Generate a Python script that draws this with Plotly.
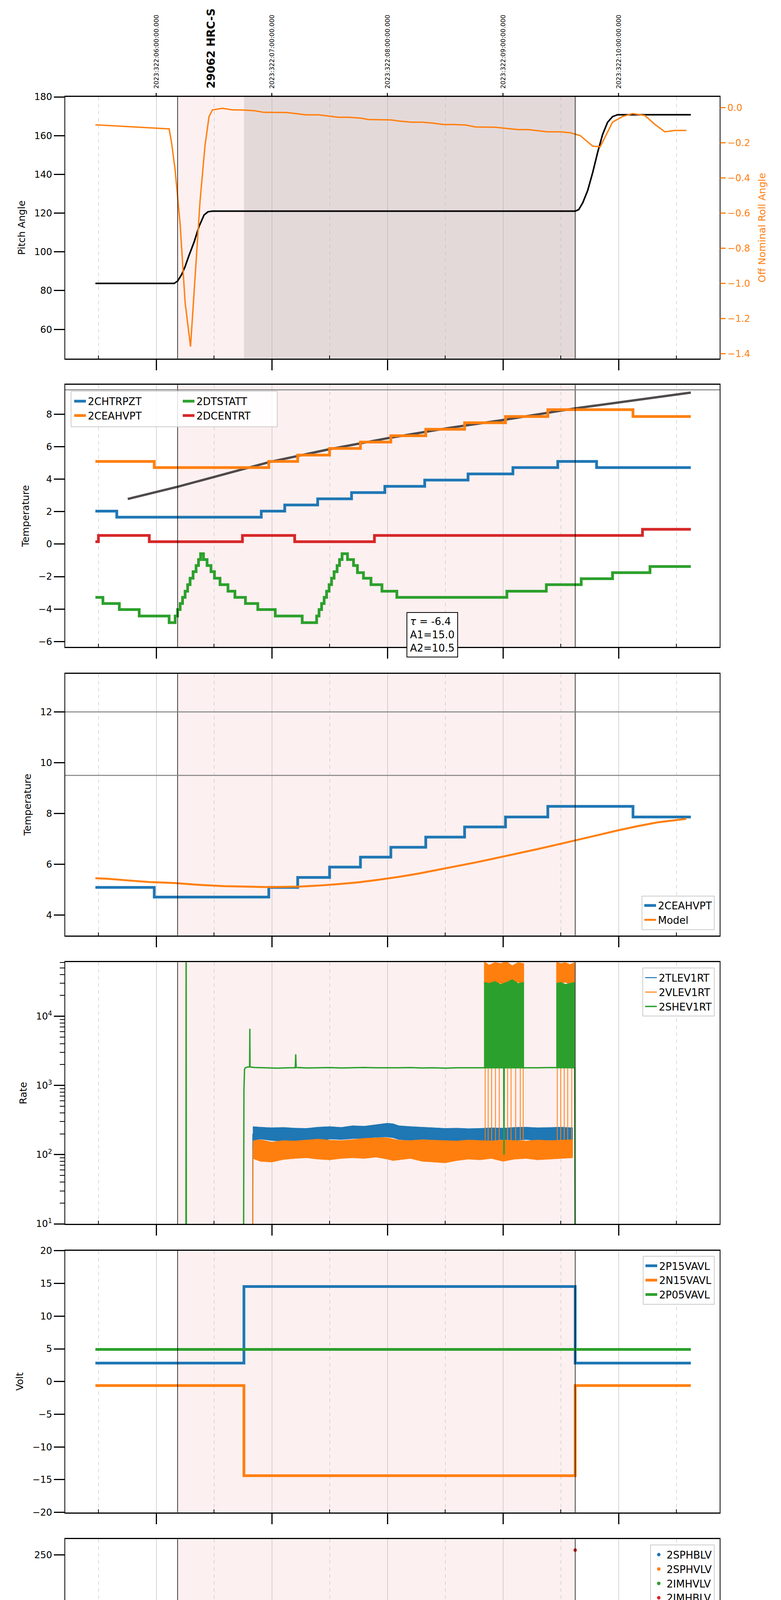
import plotly.graph_objects as go

# ---------------- time axis (hours UTC, 2023:322) ----------------
hour_ticks = [6, 7, 8, 9, 10]
hour_labels = ["01h", "02h", "03h", "04h", "05h"]
half_ticks = [5.5, 6.5, 7.5, 8.5, 9.5, 10.5]
half_labels = ["30", "30", "30", "30", "30", "30"]
top_times = [6, 7, 8, 9, 10]
top_labels = ["2023:322:06:00:00.000", "2023:322:07:00:00.000", "2023:322:08:00:00.000",
              "2023:322:09:00:00.000", "2023:322:10:00:00.000"]
obs_time = 6.473
obs_label = "29062 HRC-S"
x_title = "2023-11-18 (322)"
ctx_start, ctx_end = 6.185, 9.625
dark_start = 6.759

# ---------------- panel 1 : pitch / roll ----------------
pitch_t = [5.474, 6.155, 6.185, 6.220, 6.250, 6.284, 6.328, 6.371, 6.414, 6.448, 6.487, 9.625,
           9.655, 9.690, 9.733, 9.776, 9.819, 9.862, 9.905, 9.948, 9.991, 10.625]
pitch_v = [83.7, 83.7, 84.9, 88.3, 92.4, 98.2, 105.1, 113.2, 119.0, 120.7, 121.0, 121.0,
           121.8, 125.3, 131.7, 140.9, 151.3, 160.6, 166.9, 169.8, 170.8, 170.8]
roll_t = [5.474, 6.112, 6.134, 6.164, 6.207, 6.250, 6.297, 6.336, 6.379, 6.422, 6.457, 6.487,
          6.573, 6.659, 6.759, 6.853, 6.931, 7.125, 7.233, 7.297, 7.405, 7.491, 7.578, 7.664,
          7.772, 7.836, 8.030, 8.095, 8.203, 8.302, 8.388, 8.483, 8.569, 8.677, 8.763, 8.935,
          9.022, 9.129, 9.216, 9.302, 9.388, 9.496, 9.582, 9.668, 9.776, 9.841, 9.948, 10.034,
          10.121, 10.228, 10.315, 10.401, 10.487, 10.586]
roll_v = [-0.098, -0.121, -0.204, -0.357, -0.662, -1.108, -1.360, -0.980, -0.535, -0.217,
          -0.051, -0.013, -0.004, -0.013, -0.014, -0.018, -0.027, -0.028, -0.037, -0.041,
          -0.041, -0.048, -0.055, -0.055, -0.060, -0.068, -0.070, -0.076, -0.083, -0.083,
          -0.088, -0.096, -0.096, -0.099, -0.110, -0.112, -0.118, -0.125, -0.125, -0.131,
          -0.138, -0.138, -0.143, -0.159, -0.219, -0.223, -0.083, -0.051, -0.034, -0.045,
          -0.096, -0.138, -0.130, -0.130]

# ---------------- panel 2 : temperatures ----------------
model2_t = [5.754, 6.185, 6.80, 6.996, 7.49, 8.0, 8.53, 9.0, 9.625, 10.0, 10.625]
model2_v = [2.78, 3.53, 4.71, 5.08, 5.83, 6.52, 7.15, 7.64, 8.36, 8.72, 9.33]
chtrpzt_t = [5.474, 5.659, 6.909, 7.112, 7.397, 7.690, 7.978, 8.323, 8.698, 9.086, 9.474, 9.810, 10.625]
chtrpzt_v = [2.03, 1.66, 2.03, 2.41, 2.79, 3.17, 3.56, 3.94, 4.32, 4.71, 5.09, 4.71, 4.71]
ceahvpt_t = [5.474, 5.983, 6.974, 7.224, 7.5, 7.767, 8.030, 8.332, 8.668, 9.022, 9.388, 10.125, 10.625]
ceahvpt_v = [5.09, 4.71, 5.09, 5.48, 5.89, 6.28, 6.67, 7.07, 7.47, 7.86, 8.28, 7.86, 7.86]
dcentrt_t = [5.474, 5.5, 5.940, 6.746, 7.198, 7.888, 10.207, 10.625]
dcentrt_v = [0.15, 0.53, 0.15, 0.53, 0.15, 0.53, 0.91, 0.91]
dtstatt_t = [5.474, 5.539, 5.681, 5.853, 6.112, 6.164, 6.185, 6.207, 6.228, 6.250, 6.272, 6.293,
             6.319, 6.345, 6.366, 6.384, 6.409, 6.440, 6.474, 6.504, 6.552, 6.621, 6.681, 6.772,
             6.879, 7.030, 7.263, 7.388, 7.409, 7.431, 7.453, 7.474, 7.496, 7.517, 7.539, 7.565,
             7.586, 7.608, 7.655, 7.707, 7.741, 7.793, 7.858, 7.953, 8.082, 9.034, 9.375, 9.677,
             9.948, 10.272, 10.625]
dtstatt_v = [-3.28, -3.66, -4.03, -4.43, -4.84, -4.43, -4.03, -3.66, -3.28, -2.90, -2.50, -2.10,
             -1.70, -1.32, -0.95, -0.59, -0.95, -1.32, -1.70, -2.10, -2.50, -2.90, -3.28, -3.66,
             -4.03, -4.43, -4.84, -4.43, -4.03, -3.66, -3.28, -2.90, -2.50, -2.10, -1.70, -1.32,
             -0.95, -0.59, -0.95, -1.32, -1.76, -2.10, -2.50, -2.90, -3.28, -2.90, -2.50, -2.13,
             -1.76, -1.38, -1.38]
p2_limits = [9.5]
fit_text = "<i>τ</i> = -6.4<br>A1=15.0<br>A2=10.5"
fit_time = 8.39

# ---------------- panel 3 : 2CEAHVPT vs model ----------------
hvmodel_t = [5.474, 5.573, 5.767, 5.940, 6.155, 6.371, 6.586, 6.802, 6.974, 7.233, 7.405, 7.578,
             7.750, 7.922, 8.095, 8.267, 8.440, 8.612, 8.784, 8.957, 9.129, 9.302, 9.474, 9.647,
             9.819, 9.991, 10.164, 10.336, 10.586]
hvmodel_v = [5.45, 5.43, 5.36, 5.30, 5.26, 5.19, 5.14, 5.11, 5.10, 5.12, 5.16, 5.22, 5.29, 5.39,
             5.50, 5.63, 5.78, 5.93, 6.09, 6.26, 6.42, 6.60, 6.78, 6.97, 7.15, 7.33, 7.50, 7.65, 7.79]
p3_limits = [12.0, 9.5]

# ---------------- panel 4 : rates ----------------
band_t = [6.836, 6.90, 7.00, 7.10, 7.20, 7.30, 7.40, 7.50, 7.60, 7.70, 7.80, 7.90, 8.00, 8.05,
          8.10, 8.20, 8.30, 8.40, 8.50, 8.60, 8.70, 8.80, 8.90, 9.00, 9.10, 9.20, 9.30, 9.40,
          9.50, 9.603]
tlev_hi = [255, 250, 245, 248, 242, 240, 250, 255, 248, 262, 258, 270, 285, 280, 262, 255, 250,
           245, 240, 242, 238, 240, 245, 242, 248, 250, 245, 247, 250, 245]
tlev_lo = [160, 168, 160, 155, 152, 158, 150, 168, 165, 170, 172, 178, 180, 175, 165, 160, 158,
           150, 155, 152, 150, 158, 160, 165, 160, 165, 160, 162, 158, 160]
vlev_hi = [158, 165, 152, 160, 158, 163, 168, 162, 160, 165, 172, 175, 176, 168, 162, 160, 165,
           162, 160, 158, 163, 160, 158, 163, 160, 158, 163, 160, 162, 165]
vlev_lo = [88, 80, 78, 85, 88, 90, 86, 84, 88, 90, 88, 92, 86, 82, 84, 88, 80, 78, 76, 82, 86,
           84, 88, 80, 86, 88, 84, 86, 88, 90]
tlev_rise_t = [6.834, 6.836]
tlev_rise_v = [1, 200]
vlev_rise_t = [6.834, 6.838]
vlev_rise_v = [1, 120]
shev_t = [5.474, 6.257, 6.259, 6.261, 6.755, 6.759, 6.764, 6.770, 6.790, 6.808, 6.810, 6.812,
          6.85, 6.95, 7.05, 7.15, 7.203, 7.207, 7.211, 7.30, 7.40, 7.50, 7.60, 7.70, 7.80, 7.90,
          8.00, 8.10, 8.20, 8.30, 8.40, 8.50, 8.60, 8.70, 8.80, 8.90, 9.00, 9.007, 9.009, 9.011,
          9.10, 9.20, 9.30, 9.40, 9.50, 9.60, 9.620, 9.625]
shev_v = [1, 1, 1e6, 1, 1, 850, 1700, 1800, 1850, 1850, 6600, 1850, 1820, 1800, 1780, 1800,
          1800, 2820, 1820, 1790, 1800, 1810, 1790, 1800, 1820, 1800, 1790, 1800, 1810, 1790,
          1800, 1780, 1800, 1800, 1790, 1800, 1800, 1800, 100, 1800, 1800, 1790, 1800, 1810,
          1800, 1790, 1800, 1]
spikeA_t = [8.836, 8.88, 8.93, 8.98, 9.03, 9.08, 9.13, 9.181]
spikeB_t = [9.461, 9.50, 9.54, 9.58, 9.620]
vlev_spA_hi = [62000, 55000, 60000, 58000, 62000, 54000, 60000, 58000]
vlev_spA_lo = [30000, 29000, 31000, 30000, 28000, 30000, 31000, 30000]
vlev_spB_hi = [62000, 58000, 60000, 56000, 60000]
vlev_spB_lo = [30000, 30000, 31000, 29000, 30000]
shev_spA_hi = [31000, 30000, 32000, 29000, 31000, 34000, 30000, 31000]
shev_spA_lo = [1800, 1800, 1800, 1800, 1800, 1800, 1800, 1800]
shev_spB_hi = [30000, 31000, 29000, 30000, 31000]
shev_spB_lo = [1800, 1800, 1800, 1800, 1800]
vlev_drop_t = [8.846, 8.872, 8.902, 8.935, 8.968, 9.009, 9.040, 9.070, 9.110, 9.150, 9.175,
               9.470, 9.500, 9.530, 9.560, 9.595]
vlev_drop_lo = [110, 120, 105, 115, 110, 100, 120, 110, 115, 105, 120, 110, 105, 115, 110, 120]
vlev_drop_hi = 30000
rate_minor = [20, 30, 40, 50, 60, 70, 80, 90, 200, 300, 400, 500, 600, 700, 800, 900,
              2000, 3000, 4000, 5000, 6000, 7000, 8000, 9000, 20000, 30000, 40000, 50000, 60000]

# ---------------- panel 5 : voltages ----------------
volt_t = [5.474, 6.759, 9.625, 10.625]
p15_v = [2.82, 14.53, 2.82, 2.82]
n15_v = [-0.61, -14.4, -0.61, -0.61]
p05_t = [5.474, 10.625]
p05_v = [4.92, 4.92]

# ---------------- panel 6 : HV monitors ----------------
sphblv_t = [6.784, 6.784, 6.786, 6.788, 6.792, 6.797, 6.803, 6.809, 6.815, 6.821, 6.827, 6.832]
sphblv_v = [118, 104, 103, 102, 100, 97, 92, 88, 84, 81, 79, 78]
sphblv_run_t = [6.836, 9.625]
sphblv_run_v = [78, 78]
sphvlv_t = [6.784, 6.785, 6.787, 6.789, 6.795, 6.800, 6.808, 6.813, 6.820, 6.828, 6.834,
            8.849, 8.935, 8.957, 8.978, 9.022, 9.474, 9.539, 9.591]
sphvlv_v = [127, 126, 98, 96, 91, 90, 86, 84, 80, 75, 71, 127, 127, 127, 127, 127, 127, 127, 127]
sphvlv_run_t = [6.836, 9.625]
sphvlv_run_v = [71, 71]
imhvlv_t = [6.784, 9.625]     # readings sit below the visible range
imhvlv_v = [-10, -10]
imhblv_t = [9.625]
imhblv_v = [255]

# ---------------- panels 7/8 : oscillation sample times ----------------
oscA_t = [8.836, 8.853, 8.870, 8.888, 8.905, 8.921, 8.938, 8.955, 8.972, 8.990, 9.009, 9.024,
          9.041, 9.058, 9.075, 9.092, 9.109, 9.126, 9.143, 9.160]
oscB_t = [9.461, 9.478, 9.495, 9.512, 9.529, 9.546, 9.563, 9.580, 9.597, 9.614]

# panel 7 : detector temps
spinatm_t = [6.759, 6.931, 7.159, 7.392, 7.414, 7.440, 7.461, 7.483, 7.5, 7.522, 7.547, 7.578,
             7.603, 7.621, 7.651, 7.685, 7.716, 7.75, 7.802, 7.858, 7.931, 8.030, 8.203, 8.591]
spinatm_v = [3.72, 3.27, 2.83, 3.3, 3.7, 4.2, 4.6, 5.1, 5.5, 6.0, 6.5, 7.0, 7.5, 8.08, 7.5, 7.0,
             6.5, 6.0, 5.55, 5.1, 4.6, 4.15, 3.7, 3.27]
spinatm_A = [3.27, -3, 3.27, -3, 3.27, -3, 3.27, -3, 3.27, -3, 3.27, -3, 3.27, -3, 3.27, -3,
             3.27, -3, 3.27, -3]
spinatm_mid_t = [9.181, 9.336]
spinatm_mid_v = [3.27, 3.72]
spinatm_B = [3.72, -3, 3.72, -3, 3.72, -3, 3.72, -3, 3.72, -3]

sphvatm_t = [6.759, 6.897, 6.987, 7.060, 7.138, 7.220, 7.306, 7.405, 7.513, 7.642, 7.772, 7.922,
             8.086, 8.259, 8.448, 8.664]
sphvatm_v = [14.15, 14.45, 14.72, 15.0, 15.3, 15.55, 15.85, 16.12, 16.41, 16.71, 16.98, 17.28,
             17.55, 17.84, 18.14, 18.44]
sphvatm_A = [10.54, 18.44, 10.54, 18.44, 10.54, 18.44, 10.54, 18.44, 10.54, 18.44, -3, 18.6,
             10.8, 18.8, 10.8, 18.8, 10.8, 18.8, 10.8, 18.8]
sphvatm_mid_t = [9.181]
sphvatm_mid_v = [19.02]
sphvatm_B = [11.06, 19.36, 11.06, 19.36, 11.06, 19.36, 11.06, 19.36, 11.06, 19.36]

iminatm_t = [6.759, 7.901]
iminatm_v = [0.65, 1.09]
iminatm_A = [3.35, 1.09, 3.35, 1.09, 3.35, 1.09, 3.35, 1.09, 3.35, 1.09, 3.35, 1.09, 3.35, 1.09,
             3.35, 1.09, 3.35, 1.09, 3.35, 1.09]
iminatm_mid_t = [9.181, 9.431]
iminatm_mid_v = [1.09, 1.52]
iminatm_B = [3.8, 1.52, 3.8, 1.52, 3.8, 1.52, 3.8, 1.52, 3.8, 1.52]

imhvatm_t = [5.474, 6.759, 7.332, 7.655, 7.935, 8.194, 8.461, 8.741]
imhvatm_v = [-30, 13.6, 13.88, 14.18, 14.45, 14.72, 15.0, 15.27]
imhvatm_A = [18.84, 15.27, 18.84, 15.27, 18.84, 15.27, 18.84, 15.27, 18.84, 15.27, 18.84, 15.55,
             18.84, 15.55, 18.84, 15.55, 18.84, 15.55, 18.84, 15.55]
imhvatm_mid_t = [9.181, 9.349]
imhvatm_mid_v = [15.55, 15.85]
imhvatm_B = [19.36, 15.85, 19.36, 15.85, 19.36, 15.85, 19.36, 15.85, 19.36, 15.85]
imhvatm_end_t = [9.622, 9.625]
imhvatm_end_v = [30, -30]

# panel 8 : FEA temps
fhtrmzt_t = [5.474, 5.560, 6.996, 7.125, 7.254, 7.371, 7.470, 7.476, 7.491, 7.612, 7.733, 7.853,
             7.974, 8.095, 8.224, 8.353, 8.453, 8.459, 8.491, 8.621, 8.772, 9.043, 9.194, 9.353,
             9.509, 9.668, 10.069, 10.625]
fhtrmzt_v = [-9.2, -9.61, -9.2, -8.78, -8.38, -7.97, -9.61, -7.97, -7.57, -7.17, -6.77, -6.37,
             -5.97, -5.58, -5.19, -4.78, -2.85, -4.78, -4.41, -4.0, -3.64, -2.87, -2.5, -2.12,
             -1.74, -1.36, -1.74, -1.74]
fradpyt_t = [7.000, 7.047, 7.168, 7.284, 7.397, 7.522, 7.651, 7.772, 7.901, 8.030, 8.172, 8.310,
             8.448, 8.599, 8.750, 8.905, 9.052, 9.216, 9.388, 9.552, 10.345, 10.625]
fradpyt_v = [-11.4, -10.87, -10.46, -10.04, -9.61, -9.2, -8.79, -8.38, -7.97, -7.57, -7.17, -6.77,
             -6.37, -5.97, -5.58, -5.19, -4.78, -4.41, -4.02, -3.65, -4.03, -4.03]
fepratm_t = [6.759, 6.823, 6.862, 6.905, 6.966, 7.030, 7.116, 7.216, 7.319, 7.440, 7.560, 7.690,
             7.819, 7.931, 8.060, 8.203, 8.345, 8.483, 8.634, 8.806]
fepratm_v = [-8.19, -7.79, -7.38, -6.98, -6.58, -6.2, -5.79, -5.39, -5.01, -4.61, -4.21, -3.83,
             -3.42, -3.02, -2.62, -2.22, -1.81, -1.42, -1.01, -0.59]
fepratm_A = [-4.66, -0.3, -4.66, -0.3, -4.66, -0.3, -4.66, -0.3, -4.66, -0.3, -4.66, -0.1,
             -4.66, 0.0, -4.66, 0.1, -4.66, 0.25, -4.66, 0.25]
fepratm_mid_t = [9.181, 9.302]
fepratm_mid_v = [0.25, 0.64]
fepratm_B = [-4.66, 1.5, -4.66, 1.5, -4.66, 1.5, -4.66, 1.5, -4.66, 1.5]
fe00atm_t = [5.474, 6.759, 6.832, 6.888, 6.893, 6.953, 7.039, 7.138, 7.224, 7.310, 7.405, 7.410,
             7.414, 7.491, 7.599, 7.694, 7.793, 7.799, 7.806, 7.888, 7.987, 8.030, 8.036, 8.086,
             8.103, 8.108, 8.190, 8.302, 8.418, 8.526, 8.634, 8.741, 8.746, 8.750]
fe00atm_v = [-30, -7.84, -7.48, -7.9, -7.48, -7.08, -6.7, -6.34, -5.96, -5.6, -6.0, -5.6, -5.23,
             -4.87, -4.51, -4.16, -3.1, -4.16, -3.8, -3.45, -3.12, -2.4, -3.12, -2.81, -2.1, -2.81,
             -2.45, -2.12, -1.77, -1.44, -1.13, -0.45, -1.13, -0.78]
fe00atm_A = [3, -0.55, 3, -0.55, 3, -0.55, 3, -0.55, 3, -0.55, -30, 3, -0.3, 3, -0.3, 3, -0.3,
             3, -0.3, 3]
fe00atm_mid_t = [9.181, 9.336, 9.466]
fe00atm_mid_v = [0.5, 0.84, 3]
fe00atm_end_t = [9.622, 9.625]
fe00atm_end_v = [3, -30]

# =====================================================================
C_BLUE, C_ORANGE, C_GREEN, C_RED = "#1f77b4", "#ff7f0e", "#2ca02c", "#d62728"
W, H = 2000, 6200
ML, MR, MT, MB = 167, 157, 248, 110
PH = H - MT - MB
PW = W - ML - MR


def py(p):
    return (H - MB - p) / PH


def pxf(p):
    return (p - ML) / PW


panels_px = [(248, 918), (986, 1657), (1726, 2396), (2465, 3135),
             (3204, 3874), (3943, 4614), (4682, 5352), (5420, 6090)]
XR = [5.2128, 10.875]

fig = go.Figure()


def sc(i, x, y, **kw):
    a = "" if i == 1 else str(i)
    fig.add_trace(go.Scatter(x=x, y=y, xaxis="x" + a, yaxis="y" + a, **kw))


# panel 1
sc(1, pitch_t, pitch_v, mode="lines", line=dict(color="black", width=4), showlegend=False)
fig.add_trace(go.Scatter(x=roll_t, y=roll_v, xaxis="x", yaxis="y9", mode="lines",
                         line=dict(color=C_ORANGE, width=3.5), showlegend=False))

# panel 2
sc(2, model2_t, model2_v, mode="lines", line=dict(color="rgba(55,50,50,0.88)", width=6), showlegend=False)
sc(2, chtrpzt_t, chtrpzt_v, mode="lines", line=dict(color=C_BLUE, width=7, shape="hv"),
   name="2CHTRPZT", legend="legend")
sc(2, ceahvpt_t, ceahvpt_v, mode="lines", line=dict(color=C_ORANGE, width=7, shape="hv"),
   name="2CEAHVPT", legend="legend")
sc(2, dtstatt_t, dtstatt_v, mode="lines", line=dict(color=C_GREEN, width=7, shape="hv"),
   name="2DTSTATT", legend="legend2")
sc(2, dcentrt_t, dcentrt_v, mode="lines", line=dict(color=C_RED, width=7, shape="hv"),
   name="2DCENTRT", legend="legend2")

# panel 3
sc(3, ceahvpt_t, ceahvpt_v, mode="lines", line=dict(color=C_BLUE, width=7, shape="hv"),
   name="2CEAHVPT", legend="legend3")
sc(3, hvmodel_t, hvmodel_v, mode="lines", line=dict(color=C_ORANGE, width=5),
   name="Model", legend="legend3")


# panel 4
def poly(t, hi, lo):
    return list(t) + list(t)[::-1], list(hi) + list(lo)[::-1]


bx, by = poly(band_t, tlev_hi, tlev_lo)
sc(4, bx, by, mode="lines", fill="toself", fillcolor=C_BLUE, line=dict(color=C_BLUE, width=1),
   showlegend=False, hoverinfo="skip")
sc(4, tlev_rise_t, tlev_rise_v, mode="lines", line=dict(color=C_BLUE, width=2.5),
   name="2TLEV1RT", legend="legend4")
ox, oy = poly(band_t, vlev_hi, vlev_lo)
sc(4, ox, oy, mode="lines", fill="toself", fillcolor=C_ORANGE, line=dict(color=C_ORANGE, width=1),
   showlegend=False, hoverinfo="skip")
sc(4, vlev_rise_t, vlev_rise_v, mode="lines", line=dict(color=C_ORANGE, width=2.5),
   name="2VLEV1RT", legend="legend4")
ax_, ay_ = poly(spikeA_t, vlev_spA_hi, vlev_spA_lo)
bx_, by_ = poly(spikeB_t, vlev_spB_hi, vlev_spB_lo)
sc(4, ax_ + [None] + bx_, ay_ + [None] + by_, mode="lines", fill="toself", fillcolor=C_ORANGE,
   line=dict(color=C_ORANGE, width=1), showlegend=False, hoverinfo="skip")
dx, dy = [], []
for t, lo in zip(vlev_drop_t, vlev_drop_lo):
    dx += [t, t, None]
    dy += [vlev_drop_hi, lo, None]
sc(4, dx, dy, mode="lines", line=dict(color=C_ORANGE, width=2), showlegend=False)
sc(4, shev_t, shev_v, mode="lines", line=dict(color=C_GREEN, width=3.5),
   name="2SHEV1RT", legend="legend4")
gax, gay = poly(spikeA_t, shev_spA_hi, shev_spA_lo)
gbx, gby = poly(spikeB_t, shev_spB_hi, shev_spB_lo)
sc(4, gax + [None] + gbx, gay + [None] + gby, mode="lines", fill="toself", fillcolor=C_GREEN,
   line=dict(color=C_GREEN, width=1), showlegend=False, hoverinfo="skip")

# panel 5
sc(5, volt_t, p15_v, mode="lines", line=dict(color=C_BLUE, width=7, shape="hv"),
   name="2P15VAVL", legend="legend5")
sc(5, volt_t, n15_v, mode="lines", line=dict(color=C_ORANGE, width=7, shape="hv"),
   name="2N15VAVL", legend="legend5")
sc(5, p05_t, p05_v, mode="lines", line=dict(color=C_GREEN, width=7),
   name="2P05VAVL", legend="legend5")

# panel 6
sc(6, sphblv_run_t, sphblv_run_v, mode="lines", line=dict(color=C_BLUE, width=10),
   showlegend=False)
sc(6, sphblv_t, sphblv_v, mode="markers", marker=dict(color=C_BLUE, size=9),
   name="2SPHBLV", legend="legend6")
sc(6, sphvlv_run_t, sphvlv_run_v, mode="lines", line=dict(color=C_ORANGE, width=9),
   showlegend=False)
sc(6, sphvlv_t, sphvlv_v, mode="markers", marker=dict(color=C_ORANGE, size=9),
   name="2SPHVLV", legend="legend6")
sc(6, imhvlv_t, imhvlv_v, mode="markers", marker=dict(color=C_GREEN, size=9),
   name="2IMHVLV", legend="legend6")
sc(6, imhblv_t, imhblv_v, mode="markers", marker=dict(color=C_RED, size=9),
   name="2IMHBLV", legend="legend6")

# panel 7
sc(7, spinatm_t + oscA_t + spinatm_mid_t + oscB_t, spinatm_v + spinatm_A + spinatm_mid_v + spinatm_B,
   mode="lines", line=dict(color=C_BLUE, width=7, shape="hv"), name="2SPINATM", legend="legend7")
sc(7, sphvatm_t + oscA_t + sphvatm_mid_t + oscB_t, sphvatm_v + sphvatm_A + sphvatm_mid_v + sphvatm_B,
   mode="lines", line=dict(color=C_ORANGE, width=7, shape="hv"), name="2SPHVATM", legend="legend7")
sc(7, iminatm_t + oscA_t + iminatm_mid_t + oscB_t, iminatm_v + iminatm_A + iminatm_mid_v + iminatm_B,
   mode="lines", line=dict(color=C_GREEN, width=7, shape="hv"), name="2IMINATM", legend="legend7")
sc(7, imhvatm_t + oscA_t + imhvatm_mid_t + oscB_t + imhvatm_end_t,
   imhvatm_v + imhvatm_A + imhvatm_mid_v + imhvatm_B + imhvatm_end_v,
   mode="lines", line=dict(color=C_RED, width=7, shape="hv"), name="2IMHVATM", legend="legend7")

# panel 8
sc(8, fhtrmzt_t, fhtrmzt_v, mode="lines", line=dict(color=C_BLUE, width=7, shape="hv"),
   name="2FHTRMZT", legend="legend8")
sc(8, fradpyt_t, fradpyt_v, mode="lines", line=dict(color=C_ORANGE, width=7, shape="hv"),
   name="2FRADPYT", legend="legend8")
sc(8, fepratm_t + oscA_t + fepratm_mid_t + oscB_t, fepratm_v + fepratm_A + fepratm_mid_v + fepratm_B,
   mode="lines", line=dict(color=C_GREEN, width=7, shape="hv"), name="2FEPRATM", legend="legend8")
sc(8, fe00atm_t + oscA_t + fe00atm_mid_t + fe00atm_end_t, fe00atm_v + fe00atm_A + fe00atm_mid_v + fe00atm_end_v,
   mode="lines", line=dict(color=C_RED, width=7, shape="hv"), name="2FE00ATM", legend="legend8")

# ---------------- axes ----------------
y_specs = {
    1: dict(range=[45, 180], tickvals=[60, 80, 100, 120, 140, 160, 180], title="Pitch Angle"),
    2: dict(range=[-6.33, 9.8], tickvals=[-6, -4, -2, 0, 2, 4, 6, 8], title="Temperature"),
    3: dict(range=[3.2, 13.5], tickvals=[4, 6, 8, 10, 12], title="Temperature"),
    4: dict(type="log", range=[1, 4.78], tickvals=[10, 100, 1000, 10000],
            ticktext=["10<sup>1</sup>", "10<sup>2</sup>", "10<sup>3</sup>", "10<sup>4</sup>"],
            title="Rate"),
    5: dict(range=[-20, 20], tickvals=[-20, -15, -10, -5, 0, 5, 10, 15, 20], title="Volt"),
    6: dict(range=[0, 266], tickvals=[0, 50, 100, 150, 200, 250], title="HV Monitor"),
    7: dict(range=[-0.86, 19.9], tickvals=[0, 2.5, 5, 7.5, 10, 12.5, 15, 17.5], tickformat=".1f",
            title="Detector Temp"),
    8: dict(range=[-11.11, 1.04], tickvals=[-10, -8, -6, -4, -2, 0], title="FEA Temp"),
}

layout = dict(width=W, height=H, margin=dict(l=ML, r=MR, t=MT, b=MB),
              paper_bgcolor="white", plot_bgcolor="white",
              font=dict(family="DejaVu Sans", color="black", size=24))

for i, (top, bot) in enumerate(panels_px, 1):
    a = "" if i == 1 else str(i)
    xa = dict(domain=[0, 1], anchor="y" + a, range=XR, tickmode="array", tickvals=hour_ticks,
              ticktext=hour_labels, showticklabels=(i == 8), ticks="outside", ticklen=27,
              tickwidth=2.5, tickcolor="black", showgrid=True, gridcolor="#b0b0b0", gridwidth=1.3,
              minor=dict(tickmode="array", tickvals=half_ticks, ticks="inside", ticklen=8,
                         tickwidth=1.5, tickcolor="black", showgrid=True, gridcolor="#bbbbbb",
                         gridwidth=1.3, griddash="dash"),
              showline=True, linecolor="black", linewidth=3, mirror=True, zeroline=False,
              tickfont=dict(size=27), ticklabelstandoff=6)
    if i == 8:
        xa["title"] = dict(text=x_title, font=dict(size=31), standoff=6)
    layout["xaxis" + a] = xa
    s = dict(y_specs[i])
    title = s.pop("title")
    ya = dict(domain=[py(bot), py(top)], anchor="x" + a, ticks="outside", ticklen=27,
              tickwidth=2.5, tickcolor="black", showline=True, linecolor="black", linewidth=1.5,
              mirror=True, showgrid=False, zeroline=False, tickfont=dict(size=24),
              title=dict(text=title, font=dict(size=25), standoff=16), **s)
    if i == 4:
        ya["minor"] = dict(tickmode="array", tickvals=rate_minor, ticks="outside", ticklen=12,
                           tickwidth=1.5, tickcolor="black", showgrid=False)
    layout["yaxis" + a] = ya

layout["yaxis9"] = dict(overlaying="y", side="right", anchor="x", range=[-1.427, 0.061],
                        tickvals=[0.0, -0.2, -0.4, -0.6, -0.8, -1.0, -1.2, -1.4], tickformat=".1f",
                        ticks="outside", ticklen=14, tickwidth=2.5, tickcolor=C_ORANGE,
                        tickfont=dict(size=24, color=C_ORANGE), showgrid=False, zeroline=False,
                        showline=False,
                        title=dict(text="Off Nominal Roll Angle", font=dict(size=25, color=C_ORANGE),
                                   standoff=22))

# legends
frame = dict(bgcolor="rgba(255,255,255,0.85)", bordercolor="#cccccc", borderwidth=2,
             font=dict(size=26))
layout["legend"] = dict(x=pxf(185), y=py(1004), xanchor="left", yanchor="top",
                        bgcolor="rgba(0,0,0,0)", borderwidth=0, font=dict(size=26))
layout["legend2"] = dict(x=pxf(463), y=py(1004), xanchor="left", yanchor="top",
                         bgcolor="rgba(0,0,0,0)", borderwidth=0, font=dict(size=26))
layout["legend3"] = dict(x=pxf(1830), y=py(2382), xanchor="right", yanchor="bottom", **frame)
layout["legend4"] = dict(x=pxf(1830), y=py(2479), xanchor="right", yanchor="top", **frame)
layout["legend5"] = dict(x=pxf(1830), y=py(3217), xanchor="right", yanchor="top", **frame)
layout["legend6"] = dict(x=pxf(1830), y=py(3957), xanchor="right", yanchor="top", **frame)
layout["legend7"] = dict(x=pxf(1830), y=py(4695), xanchor="right", yanchor="top", **frame)
layout["legend8"] = dict(x=pxf(182), y=py(5433), xanchor="left", yanchor="top", **frame)

# shapes (context band per panel, boundaries, limits)
shapes = []
for i in range(1, 9):
    a = "" if i == 1 else str(i)
    xr, yr = "x" + a, "y" + a + " domain"
    shapes.append(dict(type="rect", xref=xr, yref=yr, x0=ctx_start, x1=ctx_end, y0=0, y1=1,
                       fillcolor="rgb(253,240,240)", line=dict(width=0), layer="below"))
    if i == 1:
        shapes.append(dict(type="rect", xref=xr, yref=yr, x0=dark_start, x1=ctx_end, y0=0, y1=1,
                           fillcolor="rgb(228,217,217)", line=dict(width=0), layer="below"))
    for xv in (ctx_start, ctx_end):
        shapes.append(dict(type="line", xref=xr, yref=yr, x0=xv, x1=xv, y0=0, y1=1,
                           line=dict(color="black", width=1.5), layer="above"))
for yv in p2_limits:
    shapes.append(dict(type="line", xref="x2 domain", yref="y2", x0=0, x1=1, y0=yv, y1=yv,
                       line=dict(color="#808080", width=2.5), layer="above"))
for yv in p3_limits:
    shapes.append(dict(type="line", xref="x3 domain", yref="y3", x0=0, x1=1, y0=yv, y1=yv,
                       line=dict(color="#808080", width=2.5), layer="above"))
for h in top_times:
    shapes.append(dict(type="line", xref="x", yref="paper", x0=h, x1=h, y0=1, y1=1 + 10 / PH,
                       line=dict(color="black", width=2.5), layer="above"))
shapes.append(dict(type="rect", xref="paper", yref="paper", x0=pxf(182), x1=pxf(710),
                   y0=py(1093), y1=py(1002), fillcolor="rgba(255,255,255,0.85)",
                   line=dict(color="#cccccc", width=2), layer="above"))
layout["shapes"] = shapes

# annotations
ann = []
for h, lab in zip(top_times, top_labels):
    ann.append(dict(x=h, xref="x", y=py(229), yref="paper", text=lab, textangle=-90,
                    showarrow=False, xanchor="center", yanchor="bottom", font=dict(size=16)))
ann.append(dict(x=obs_time, xref="x", y=py(229), yref="paper", text="<b>" + obs_label + "</b>",
                textangle=-90, showarrow=False, xanchor="center", yanchor="bottom",
                font=dict(size=28)))
for h, lab in zip(half_ticks, half_labels):
    ann.append(dict(x=h, xref="x8", y=py(6106), yref="paper", text=lab, showarrow=False,
                    xanchor="center", yanchor="middle", font=dict(size=17)))
ann.append(dict(x=fit_time, xref="x2", y=py(1626), yref="paper", text=fit_text, align="left",
                showarrow=False, xanchor="center", yanchor="middle", bgcolor="white",
                bordercolor="black", borderwidth=2, borderpad=7, font=dict(size=26)))
layout["annotations"] = ann

fig.update_layout(**layout)
fig.write_html("out.html", config={"displayModeBar": False},
               post_script="document.body.style.margin='0px';")
